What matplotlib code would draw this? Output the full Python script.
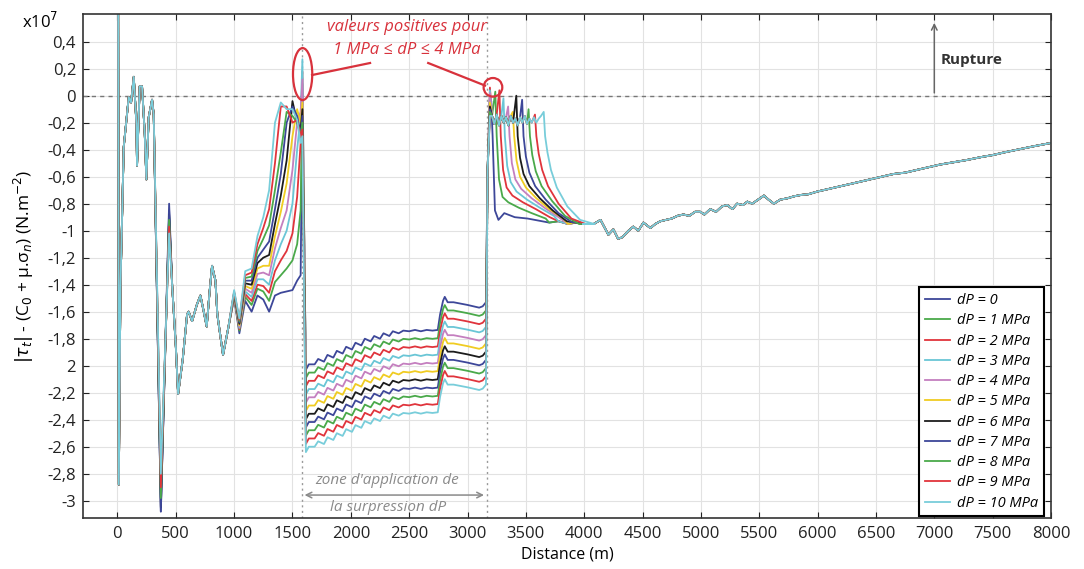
import numpy as np
import matplotlib.pyplot as plt
from matplotlib.patches import Ellipse

plt.rcParams['font.family'] = ['Open Sans', 'DejaVu Sans']

# Series: overpressure dP (MPa)
labels = ['dP = 0'] + ['dP = %d MPa' % k for k in range(1, 11)]
colors = ['#3d4799', '#4aa94a', '#e0343c', '#6ac6d6', '#c47fbf', '#f0cc22',
          '#1c1c1c', '#3d4799', '#4aa94a', '#e0343c', '#78cdda']

# Common start of the profile (x in m, y in 1e7 N.m-2)
left_a_x = [5, 12, 26, 54, 97, 117, 140, 163, 168, 191, 211, 234, 248, 268, 297, 311]
left_a_y = [1.5, -2.88, -1.42, -0.38, -0.01, -0.05, 0.14, -0.21, -0.52, 0.07, 0.07,
            -0.28, -0.62, -0.16, -0.03, -0.14]

# deep dip (~372 m) and following peak (~443 m), per series
dip_x, peak_x = 372, 443
dip_y = [-3.08, -2.98, -2.92, -2.85, -2.90, -2.95, -3.05, -3.08, -2.98, -2.90, -2.80]
peak_y = [-0.80, -0.90, -0.95, -0.97, -0.95, -0.93, -0.88, -0.85, -0.92, -0.97, -1.02]

left_b_x = [470, 500, 520, 560, 597, 610, 640, 680, 711, 740, 765, 790, 811, 840, 856, 905, 950]
left_b_y = [-1.42, -1.85, -2.21, -1.95, -1.62, -1.60, -1.67, -1.55, -1.48, -1.60, -1.71,
            -1.45, -1.26, -1.37, -1.62, -1.92, -1.72]

# Fan zone before the pressurised zone, one row per dP
fan_x = [1000, 1045, 1095, 1150, 1200, 1250, 1300, 1350, 1400, 1450, 1500, 1540, 1570]
fan_y = [
    [-1.50, -1.76, -1.52, -1.60, -1.48, -1.51, -1.60, -1.48, -1.46, -1.45, -1.44, -1.37, -1.33],
    [-1.49, -1.74, -1.49, -1.55, -1.43, -1.45, -1.52, -1.38, -1.33, -1.28, -1.22, -1.10, -0.85],
    [-1.49, -1.73, -1.47, -1.52, -1.40, -1.41, -1.46, -1.30, -1.22, -1.15, -1.02, -0.75, -0.35],
    [-1.48, -1.72, -1.45, -1.49, -1.36, -1.36, -1.40, -1.22, -1.10, -1.00, -0.80, -0.40, -0.15],
    [-1.48, -1.71, -1.43, -1.46, -1.32, -1.31, -1.33, -1.13, -0.98, -0.85, -0.55, -0.20, -0.12],
    [-1.47, -1.70, -1.41, -1.43, -1.28, -1.26, -1.26, -1.04, -0.86, -0.65, -0.30, -0.10, -0.20],
    [-1.47, -1.69, -1.39, -1.40, -1.24, -1.20, -1.18, -0.95, -0.74, -0.48, -0.04, -0.20, -0.25],
    [-1.46, -1.68, -1.37, -1.37, -1.20, -1.14, -1.08, -0.84, -0.58, -0.20, -0.08, -0.15, -0.30],
    [-1.46, -1.67, -1.35, -1.34, -1.15, -1.06, -0.96, -0.70, -0.42, -0.12, -0.15, -0.20, -0.30],
    [-1.45, -1.66, -1.33, -1.31, -1.10, -0.98, -0.84, -0.50, -0.08, -0.08, -0.20, -0.18, -0.30],
    [-1.44, -1.65, -1.30, -1.28, -1.04, -0.90, -0.70, -0.20, -0.05, -0.10, -0.10, -0.18, -0.35],
]

# spike at the left edge of the zone
spike1_x = 1585
spike1_y = [-0.05, 0.08, 0.18, 0.27, 0.12, -0.05, -0.10, -0.15, -0.20, -0.25, -0.30]

# plateau inside the zone (dP = 0), other series shifted down
plat_x = [1615, 1640, 1690, 1720, 1770, 1800, 1850, 1880, 1930, 1960, 2010, 2040, 2090,
          2120, 2170, 2200, 2250, 2280, 2330, 2360, 2410, 2450, 2500, 2550, 2600, 2650,
          2700, 2745, 2765, 2790, 2805, 2830, 2880, 2940, 3000, 3050, 3100, 3130, 3158]
plat_y = [-2.03, -1.99, -1.99, -1.95, -1.97, -1.92, -1.94, -1.89, -1.91, -1.86, -1.88,
          -1.83, -1.85, -1.80, -1.82, -1.78, -1.80, -1.76, -1.78, -1.745, -1.76, -1.74,
          -1.745, -1.735, -1.745, -1.735, -1.74, -1.735, -1.62, -1.52, -1.49, -1.53,
          -1.53, -1.54, -1.55, -1.56, -1.57, -1.56, -1.53]
plat_offset = [0, -0.061, -0.122, -0.183, -0.244, -0.305, -0.366, -0.427, -0.488, -0.549, -0.61]

# zone right edge: spike then hovering just below 0, then drop
spike2_x = 3192
spike2_y = [-0.10, 0.00, 0.06, 0.04, 0.02, -0.05, -0.08, -0.10, -0.12, -0.15, -0.15]
hover_x = [3210, 3230, 3250, 3270, 3290, 3310, 3330, 3350, 3370, 3390, 3410, 3430,
           3450, 3470, 3490, 3510, 3530, 3550, 3570, 3590, 3610, 3630]
hover_y = [-0.15, -0.21, -0.14, -0.22, -0.15, -0.20, -0.16, -0.22, -0.15, -0.20, -0.17,
           -0.22, -0.16, -0.20, -0.15, -0.21, -0.17, -0.20, -0.16, -0.20, -0.17, -0.15]
fall_x = [3215, 3250, 3285, 3320, 3360, 3400, 3430, 3480, 3535, 3590, 3665]
fall_peak = [-0.04, 0.03, 0.04, -0.02, -0.08, -0.12, 0.00, -0.03, -0.10, -0.14, -0.12]
decay_dx = [0, 20, 50, 100, 190, 300, 420]
decay_y = [
    [-0.30, -0.85, -0.92, -0.87, -0.90, -0.91, -0.93],
    [-0.30, -0.62, -0.75, -0.79, -0.83, -0.87, -0.91],
    [-0.30, -0.55, -0.68, -0.74, -0.79, -0.84, -0.90],
    [-0.30, -0.52, -0.64, -0.71, -0.77, -0.83, -0.89],
    [-0.30, -0.50, -0.62, -0.69, -0.76, -0.83, -0.90],
    [-0.30, -0.48, -0.60, -0.68, -0.76, -0.84, -0.91],
    [-0.30, -0.46, -0.58, -0.67, -0.76, -0.85, -0.93],
    [-0.30, -0.45, -0.57, -0.67, -0.77, -0.87, -0.94],
    [-0.30, -0.44, -0.56, -0.67, -0.78, -0.89, -0.95],
    [-0.30, -0.43, -0.55, -0.67, -0.80, -0.91, -0.95],
    [-0.30, -0.42, -0.55, -0.68, -0.82, -0.92, -0.95],
]
shelf_x = [3700, 3780, 3860, 3930]
shelf_y = [-0.94, -0.93, -0.95, -0.94]

# common end of the profile
tail_x = [3990, 4082, 4140, 4207, 4250, 4290, 4323, 4380, 4421, 4464, 4507, 4567, 4610,
          4652, 4700, 4750, 4800, 4850, 4900, 4950, 4995, 5030, 5080, 5130, 5180, 5226,
          5270, 5310, 5360, 5398, 5440, 5490, 5540, 5580, 5625, 5680, 5741, 5800, 5860,
          5920, 5998, 6100, 6200, 6300, 6427, 6550, 6650, 6750, 6852, 6950, 7050, 7150,
          7281, 7400, 7500, 7600, 7710, 7850, 8000]
tail_y = [-0.95, -0.95, -0.92, -1.03, -0.99, -1.06, -1.05, -1.00, -0.97, -1.00, -0.94,
          -0.98, -0.95, -0.93, -0.92, -0.91, -0.89, -0.88, -0.89, -0.86, -0.86, -0.88,
          -0.84, -0.86, -0.82, -0.81, -0.84, -0.80, -0.81, -0.785, -0.80, -0.77, -0.74,
          -0.77, -0.80, -0.77, -0.76, -0.745, -0.735, -0.73, -0.71, -0.69, -0.67, -0.65,
          -0.625, -0.60, -0.58, -0.57, -0.55, -0.53, -0.51, -0.495, -0.476, -0.455,
          -0.44, -0.42, -0.40, -0.375, -0.35]

zone_x = [1580, 3165]
y_ticks = [0.4, 0.2, 0, -0.2, -0.4, -0.6, -0.8, -1, -1.2, -1.4, -1.6, -1.8, -2,
           -2.2, -2.4, -2.6, -2.8, -3]
y_tick_labels = ['0,4', '0,2', '0', '-0,2', '-0,4', '-0,6', '-0,8', '-1', '-1,2', '-1,4',
                 '-1,6', '-1,8', '2', '-2,2', '-2,4', '-2,6', '-2,8', '-3']

fig = plt.figure(figsize=(10.84, 5.69), dpi=100)
ax = fig.add_axes([83 / 1084, 1 - 518 / 569, 968 / 1084, 504 / 569])

for i in range(11):
    xs = left_a_x + [dip_x, peak_x] + left_b_x + fan_x + [spike1_x]
    ys = left_a_y + [dip_y[i], peak_y[i]] + left_b_y + fan_y[i] + [spike1_y[i]]
    xs = xs + plat_x
    ys = ys + [v + plat_offset[i] for v in plat_y]
    xs = xs + [3172, spike2_x]
    ys = ys + [-0.55, spike2_y[i]]
    for hx, hy in zip(hover_x, hover_y):
        if hx < fall_x[i] - 20:
            xs.append(hx)
            ys.append(hy)
    if fall_x[i] - 12 > spike2_x:
        xs.append(fall_x[i] - 12)
        ys.append(fall_peak[i])
    for dx, dy in zip(decay_dx, decay_y[i]):
        xs.append(fall_x[i] + dx)
        ys.append(dy)
    last = xs[-1]
    for sx, sy in zip(shelf_x, shelf_y):
        if sx > last + 20:
            xs.append(sx)
            ys.append(sy)
    xs = xs + tail_x
    ys = ys + tail_y
    ax.plot(xs, ys, color=colors[i], lw=1.3, label=labels[i])

# reference lines
ax.axhline(0, color='#777777', lw=1, ls=(0, (3, 3)), zorder=1)
for zx in zone_x:
    ax.axvline(zx, color='#999999', lw=1, ls=(0, (1.5, 2.5)), zorder=1)

ax.set_xlim(-295, 8000)
ax.set_ylim(-3.128, 0.605)
ax.set_xticks(np.arange(0, 8001, 500))
ax.set_yticks(y_ticks)
ax.set_yticklabels(y_tick_labels)
ax.tick_params(direction='in', top=True, right=True, length=4, width=0.8,
               labelsize=12, colors='#222222')
ax.tick_params(axis='x', pad=6)
ax.tick_params(axis='y', pad=5)
ax.grid(True, color='#e2e2e2', lw=0.8)
ax.set_axisbelow(True)
for s in ax.spines.values():
    s.set_color('#333333')
    s.set_linewidth(1.2)

ax.set_xlabel('Distance (m)', fontsize=11.5, labelpad=3)
ax.set_ylabel(r'$|\tau_t|$ - (C$_0$ + µ.σ$_n$) (N.m$^{-2}$)', fontsize=12.5, labelpad=8)
ax.text(-0.044, 0.985, r'x10$^7$', transform=ax.transAxes, fontsize=12,
        ha='center', va='center')

# red annotations: positive values
red = '#d8323c'
ax.add_patch(Ellipse((1587, 0.16), 165, 0.385, fill=False, ec=red, lw=1.6, zorder=5))
ax.add_patch(Ellipse((3218, 0.062), 160, 0.138, fill=False, ec=red, lw=1.6, zorder=5))
ax.plot([1668, 2165], [0.153, 0.242], color=red, lw=1.6, zorder=5)
ax.plot([2663, 3150], [0.242, 0.075], color=red, lw=1.6, zorder=5)
ax.text(2483, 0.509, 'valeurs positives pour', color=red, style='italic', fontsize=12,
        ha='center', va='center')
ax.text(2483, 0.338, '1 MPa ≤ dP ≤ 4 MPa', color=red, style='italic', fontsize=12,
        ha='center', va='center')

# rupture arrow
ax.annotate('', xy=(7000, 0.56), xytext=(7000, 0),
            arrowprops=dict(arrowstyle='->', color='#666666', lw=1.1))
ax.text(7055, 0.264, 'Rupture', fontsize=11, fontweight='bold', color='#333333',
        ha='left', va='center')

# zone where dP is applied
grey = '#8a8a8a'
ax.annotate('', xy=(zone_x[0], -2.958), xytext=(zone_x[1], -2.958),
            arrowprops=dict(arrowstyle='<->', color=grey, lw=1.1))
ax.text(2314, -2.847, "zone d'application de", color=grey, style='italic', fontsize=11,
        ha='center', va='center')
ax.text(2320, -3.047, 'la surpression dP', color=grey, style='italic', fontsize=11,
        ha='center', va='center')

leg = ax.legend(loc='lower right', bbox_to_anchor=(0.993, 0.003), frameon=True,
                fancybox=False, edgecolor='black', framealpha=1,
                prop={'style': 'italic', 'size': 10.5}, handlelength=1.7,
                labelspacing=0.36, borderpad=0.4, handletextpad=0.5, borderaxespad=0)
leg.get_frame().set_linewidth(1.5)

plt.savefig('out.png', dpi=100)
